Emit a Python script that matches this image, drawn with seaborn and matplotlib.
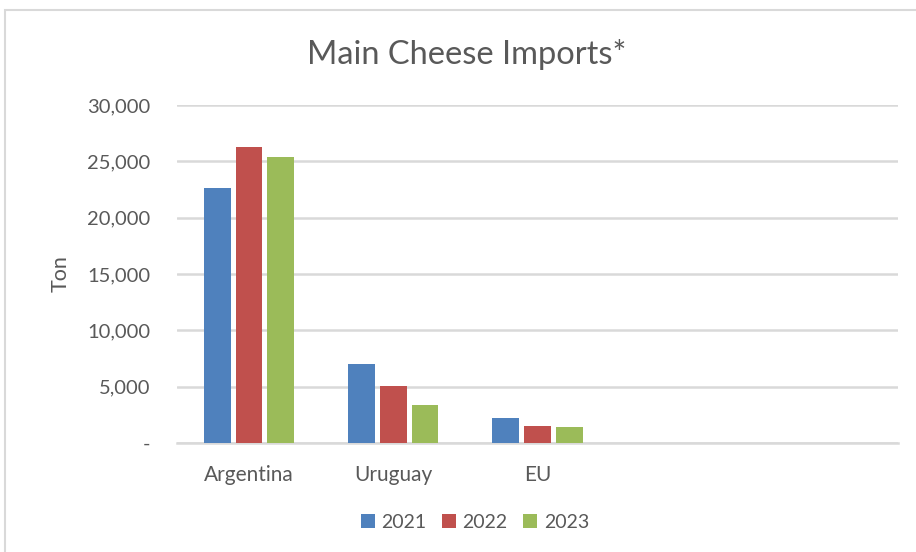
import matplotlib
matplotlib.use("Agg")
import matplotlib.pyplot as plt
import matplotlib.ticker as mticker
from matplotlib.patches import Rectangle
import seaborn as sns
import pandas as pd

# Cheese imports by origin (tons)
origins = ["Argentina", "Uruguay", "EU"]
years = ["2021", "2022", "2023"]
imports_2021 = [22600, 7000, 2200]
imports_2022 = [26300, 5100, 1550]
imports_2023 = [25400, 3400, 1450]
y_ticks = [0, 5000, 10000, 15000, 20000, 25000, 30000]

colors = ["#4F81BD", "#C0504D", "#9BBB59"]
text_color = "#595959"
grid_color = "#D9D9D9"

rows = []
for year, vals in zip(years, [imports_2021, imports_2022, imports_2023]):
    for origin, v in zip(origins, vals):
        rows.append({"Origin": origin, "Year": year, "Tons": v})
df = pd.DataFrame(rows)

sns.set_theme(style="white")
plt.rcParams["font.family"] = ["Lato", "DejaVu Sans"]

fig = plt.figure(figsize=(9.16, 5.52), dpi=100)
ax = fig.add_axes([177 / 916, 1 - 443 / 552, (898 - 177) / 916, (443 - 105) / 552])

sns.barplot(data=df, x="Origin", y="Tons", hue="Year", order=origins,
            hue_order=years, palette=colors, width=0.66, gap=0.16,
            edgecolor="none", saturation=1, errorbar=None, ax=ax, zorder=3)

# Two unused category slots on the right
ax.set_xlim(-0.5, 4.5)
ax.set_ylim(0, 30000)
ax.set_yticks(y_ticks)
ax.yaxis.set_major_formatter(
    mticker.FuncFormatter(lambda v, p: "-" if v == 0 else f"{int(v):,}"))
ax.yaxis.grid(True, color=grid_color, linewidth=1.8, zorder=0)
ax.xaxis.grid(False)
for s in ["top", "right", "left"]:
    ax.spines[s].set_visible(False)
ax.spines["bottom"].set_color(grid_color)
ax.spines["bottom"].set_linewidth(1.8)
ax.set_axisbelow(True)

ax.tick_params(axis="y", length=0, pad=19, labelsize=14.5, labelcolor=text_color)
ax.tick_params(axis="x", length=0, pad=16, labelsize=15, labelcolor=text_color)
ax.set_xlabel("")
ax.set_ylabel("Ton", fontsize=15.5, color=text_color, labelpad=12)

fig.text(467 / 916, 1 - 55 / 552, "Main Cheese Imports*", fontsize=23.5,
         color=text_color, ha="center", va="center")

handles, labels = ax.get_legend_handles_labels()
ax.legend(handles, labels, loc="center", bbox_to_anchor=(475 / 916, 1 - 522 / 552),
          bbox_transform=fig.transFigure, ncol=3, frameon=False,
          fontsize=14, labelcolor=text_color, handlelength=0.7,
          handleheight=0.7, handletextpad=0.35, columnspacing=0.8)

# Chart frame (left and top edges visible)
fig.add_artist(Rectangle((5 / 916, -0.1), 1.2, 1.1 - 10 / 552,
                         transform=fig.transFigure, fill=False,
                         edgecolor=grid_color, linewidth=1.5, clip_on=False))

fig.savefig("out.png", dpi=100)
